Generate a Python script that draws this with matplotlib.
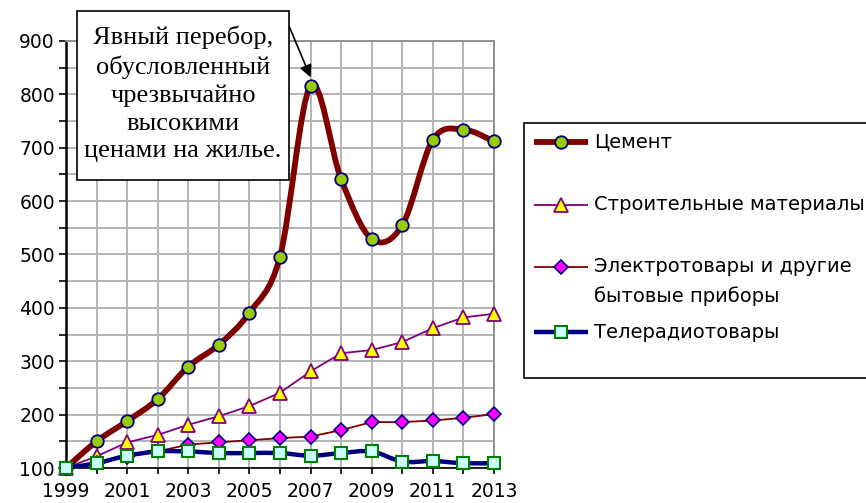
import matplotlib.pyplot as plt
from matplotlib.path import Path
from matplotlib.patches import PathPatch, Rectangle
from matplotlib.lines import Line2D

YEARS = list(range(1999, 2014))
CEMENT = [100, 150, 188, 229, 290, 331, 391, 496, 816, 641, 529, 555, 715, 734, 712]
BUILD_MAT = [100, 122, 148, 162, 181, 197, 216, 241, 281, 315, 321, 336, 362, 382, 389]
ELECTRO = [100, 110, 121, 131, 144, 148, 152, 156, 159, 171, 186, 186, 189, 194, 201]
TV_RADIO = [100, 109, 123, 131, 131, 128, 128, 128, 123, 128, 131, 112, 113, 109, 109]

LABELS = ["Цемент", "Строительные материалы",
          "Электротовары и другие\nбытовые приборы", "Телерадиотовары"]
NOTE = "Явный перебор,\nобусловленный\nчрезвычайно\nвысокими\nценами на жилье."

plt.rcParams["font.family"] = ["DejaVu Sans"]


def smooth_path(xs, ys):
    """Excel-style smoothed line: cubic Bezier through every point."""
    verts = [(xs[0], ys[0])]
    codes = [Path.MOVETO]
    n = len(xs)
    for i in range(n - 1):
        x0, y0 = (xs[i - 1], ys[i - 1]) if i > 0 else (xs[i], ys[i])
        x3, y3 = (xs[i + 2], ys[i + 2]) if i + 2 < n else (xs[i + 1], ys[i + 1])
        c1 = (xs[i] + (xs[i + 1] - x0) / 6, ys[i] + (ys[i + 1] - y0) / 6)
        c2 = (xs[i + 1] - (x3 - xs[i]) / 6, ys[i + 1] - (y3 - ys[i]) / 6)
        verts += [c1, c2, (xs[i + 1], ys[i + 1])]
        codes += [Path.CURVE4] * 3
    return Path(verts, codes)


fig = plt.figure(figsize=(8.66, 5.03), dpi=100)
ax = fig.add_axes([66 / 866, 1 - 468 / 503, (494 - 66) / 866, (468 - 41) / 503])

ax.set_xlim(1999, 2013)
ax.set_ylim(100, 900)
ax.set_xticks(YEARS, minor=True)
ax.set_xticks(YEARS[::2])
ax.set_yticks(range(100, 901, 100))
ax.set_yticks(range(150, 900, 100), minor=True)
ax.grid(True, which="both", color="#b4b4b4", linewidth=1.4, zorder=0)
ax.set_axisbelow(True)
ax.tick_params(which="both", direction="out", length=5, width=1.2, color="black",
               labelsize=13.5, pad=3)
ax.tick_params(axis="x", which="both", length=4, pad=6)
for s in ("top", "right"):
    ax.spines[s].set_color("#909090")
    ax.spines[s].set_linewidth(1.4)
ax.spines["left"].set_linewidth(1.8)
ax.spines["bottom"].set_linewidth(1.2)

# cement – thick smoothed line
ax.add_patch(PathPatch(smooth_path(YEARS, CEMENT), fill=False, edgecolor="#800000",
                       linewidth=4.2, capstyle="round", joinstyle="round", zorder=3))
ax.plot(YEARS, CEMENT, linestyle="none", marker="o", markersize=9,
        markerfacecolor="#99cc00", markeredgecolor="#000080", markeredgewidth=1.3,
        clip_on=False, zorder=4)

ax.plot(YEARS, BUILD_MAT, color="#800080", linewidth=1.3, marker="^", markersize=10,
        markerfacecolor="#ffff00", markeredgecolor="#800080", markeredgewidth=1.3,
        clip_on=False, zorder=5)

ax.plot(YEARS, ELECTRO, color="#800000", linewidth=1.3, marker="D", markersize=7.5,
        markerfacecolor="#ff00ff", markeredgecolor="#000080", markeredgewidth=1.2,
        clip_on=False, zorder=6)

ax.add_patch(PathPatch(smooth_path(YEARS, TV_RADIO), fill=False, edgecolor="#000080",
                       linewidth=3.2, capstyle="round", joinstyle="round", zorder=7))
ax.plot(YEARS, TV_RADIO, linestyle="none", marker="s", markersize=8.5,
        markerfacecolor="#ccffff", markeredgecolor="#008000", markeredgewidth=1.5,
        clip_on=False, zorder=8)

# annotation box
fig.patches.append(Rectangle((77 / 866, 1 - 180 / 503), 212 / 866, 169 / 503,
                             transform=fig.transFigure, facecolor="white",
                             edgecolor="black", linewidth=1.2, zorder=10))
fig.text(183 / 866, 1 - 94 / 503, NOTE, ha="center", va="center", fontsize=19,
         family=["Liberation Serif", "DejaVu Serif"], linespacing=1.33, zorder=11)
ax.annotate("", xy=(2007.0, 832), xycoords="data",
            xytext=(289 / 866, 1 - 26 / 503), textcoords="figure fraction",
            arrowprops=dict(arrowstyle="-|>", color="black", lw=1.2,
                            mutation_scale=18, shrinkA=0, shrinkB=0),
            annotation_clip=False, zorder=12)

# legend box drawn by hand
fig.patches.append(Rectangle((524 / 866, 1 - 378 / 503), 360 / 866, 255 / 503,
                             transform=fig.transFigure, facecolor="white",
                             edgecolor="black", linewidth=1.2, zorder=1))
leg = [
    (142, dict(color="#800000", lw=4.2, marker="o", ms=9, mfc="#99cc00", mec="#000080", mew=1.3)),
    (205, dict(color="#800080", lw=1.3, marker="^", ms=10, mfc="#ffff00", mec="#800080", mew=1.3)),
    (267, dict(color="#800000", lw=1.3, marker="D", ms=7.5, mfc="#ff00ff", mec="#000080", mew=1.2)),
    (332, dict(color="#000080", lw=3.2, marker="s", ms=8.5, mfc="#ccffff", mec="#008000", mew=1.5)),
]
for (ypx, kw), label in zip(leg, LABELS):
    y = 1 - ypx / 503
    fig.lines.append(Line2D([534 / 866, 561 / 866, 588 / 866], [y, y, y],
                            transform=fig.transFigure, markevery=[1], zorder=2,
                            solid_capstyle="butt", **kw))
    first, *rest = label.split("\n")
    fig.text(594 / 866, y, first, ha="left", va="center", fontsize=14, zorder=3)
    if rest:
        fig.text(594 / 866, 1 - 296 / 503, rest[0], ha="left", va="center",
                 fontsize=14, zorder=3)

fig.savefig("out.png", dpi=100)
